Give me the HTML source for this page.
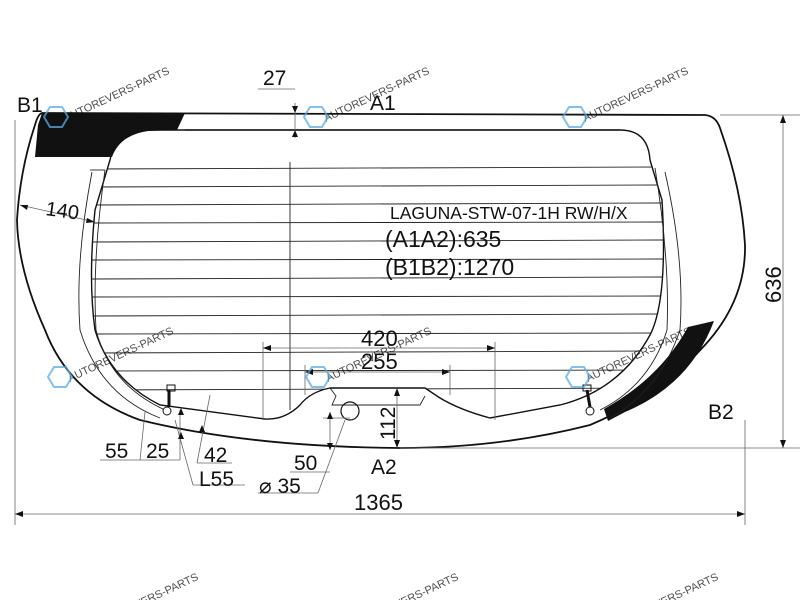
<!DOCTYPE html>
<html><head><meta charset="utf-8"><style>
html,body{margin:0;padding:0;background:#fff;width:800px;height:600px;overflow:hidden}
svg{display:block;overflow:hidden}
text{font-family:"Liberation Sans",sans-serif;fill:#111}
.wm{fill:#5aa9e0;font-size:11px;opacity:.75}
</style></head><body>
<svg width="800" height="600" viewBox="0 0 800 600" xmlns="http://www.w3.org/2000/svg">
<defs><clipPath id="cl"><path d="M150,130 L620,130 Q648,130 650,160 L662,200 Q668,300 650,335 Q620,390 560,405 L490,418 Q460,410 440,398 L425,388 L330,388 Q310,392 300,405 Q285,420 265,419 L160,405 Q110,380 95,330 Q88,280 95,210 L110,160 Q115,132 150,130 Z"/></clipPath>
<clipPath id="pg"><rect x="0" y="0" width="800" height="600"/></clipPath></defs>
<path d="M42,113 L705,115 Q716,116 720,128 Q742,190 745,245 Q746,300 705,345 Q660,395 590,425 Q500,448 400,448 Q250,447 140,420 Q70,395 45,330 Q18,270 17,220 Q20,170 35,125 Q38,114 42,113 Z" fill="none" stroke="#111" stroke-width="1.8"/>
<line x1="185" y1="130" x2="620" y2="130" stroke="#111" stroke-width="1.2"/>
<path d="M42,113 L185,113 L177,130 L148,131 Q120,135 112,157 L35,157 L38,125 Z" fill="#111"/>
<path d="M688,327 L714,321 Q690,385 625,412 L608,421 L604,409 Q660,378 688,327 Z" fill="#111"/>
<path d="M150,130 L620,130 Q648,130 650,160 L662,200 Q668,300 650,335 Q620,390 560,405 L490,418 Q460,410 440,398 L425,388 L330,388 Q310,392 300,405 Q285,420 265,419 L160,405 Q110,380 95,330 Q88,280 95,210 L110,160 Q115,132 150,130 Z" fill="none" stroke="#111" stroke-width="1.4"/>
<g clip-path="url(#cl)" stroke="#222" stroke-width="0.9">
<line x1="90" y1="169" x2="665" y2="167"/><line x1="90" y1="187" x2="665" y2="185"/>
<line x1="90" y1="205" x2="665" y2="203"/><line x1="90" y1="223" x2="665" y2="222"/>
<line x1="90" y1="242" x2="665" y2="240"/><line x1="90" y1="260" x2="665" y2="259"/>
<line x1="90" y1="279" x2="665" y2="277"/><line x1="90" y1="297" x2="665" y2="296"/>
<line x1="90" y1="316" x2="665" y2="314"/><line x1="90" y1="334" x2="665" y2="333"/>
<line x1="90" y1="353" x2="665" y2="351"/><line x1="90" y1="371" x2="665" y2="370"/>
<line x1="90" y1="390" x2="665" y2="388"/>
</g>
<line x1="290" y1="162" x2="290" y2="410" stroke="#222" stroke-width="0.9"/>
<path d="M105,170 Q92,260 96,330 Q110,385 165,410" fill="none" stroke="#222" stroke-width="0.9"/>
<path d="M90,170 L105,170" stroke="#222" stroke-width="0.9"/>
<path d="M92,172 Q75,260 80,330 Q100,395 160,418" fill="none" stroke="#222" stroke-width="0.9"/>
<path d="M655,168 Q670,260 667,330 Q650,385 600,410" fill="none" stroke="#222" stroke-width="0.9"/>
<path d="M665,172 Q685,260 680,330 Q660,390 610,418" fill="none" stroke="#222" stroke-width="0.9"/>
<path d="M330,388 L336,396 L332,405 L420,405 L425,396" fill="none" stroke="#222" stroke-width="0.9"/>
<circle cx="350" cy="411" r="9" fill="none" stroke="#111" stroke-width="1.2"/>
<rect x="167" y="385" width="8" height="6" fill="none" stroke="#111"/><line x1="169" y1="390" x2="169" y2="407" stroke="#111" stroke-width="3"/><circle cx="167" cy="411" r="4" fill="#fff" stroke="#111"/>
<rect x="583" y="385" width="8" height="6" fill="none" stroke="#111"/><line x1="587" y1="390" x2="590" y2="407" stroke="#111" stroke-width="3"/><circle cx="590" cy="411" r="4" fill="#fff" stroke="#111"/>
<g stroke="#666" stroke-width="0.8" fill="none">
<line x1="15" y1="120" x2="15" y2="525"/><line x1="745" y1="420" x2="745" y2="525"/>
<line x1="15" y1="514" x2="745" y2="514"/>
<line x1="720" y1="115" x2="800" y2="115"/><line x1="400" y1="448" x2="800" y2="448"/>
<line x1="783" y1="115" x2="783" y2="448"/>
<line x1="263" y1="342" x2="263" y2="420"/><line x1="495" y1="342" x2="495" y2="420"/>
<line x1="263" y1="348" x2="495" y2="348"/>
<line x1="305" y1="365" x2="305" y2="395"/><line x1="450" y1="365" x2="450" y2="395"/>
<line x1="305" y1="372" x2="450" y2="372"/>
<line x1="397" y1="388" x2="397" y2="448"/>
<line x1="295" y1="103" x2="295" y2="138"/><line x1="258" y1="89" x2="295" y2="89"/>
<line x1="20" y1="205" x2="95" y2="222"/>
<line x1="330" y1="412" x2="330" y2="450"/><line x1="323" y1="418" x2="350" y2="418"/>
<line x1="290" y1="472" x2="330" y2="472"/><line x1="258" y1="493" x2="318" y2="493"/><line x1="318" y1="493" x2="345" y2="420"/>
<line x1="100" y1="460" x2="140" y2="460"/><line x1="140" y1="460" x2="145" y2="412"/>
<line x1="140" y1="460" x2="180" y2="460"/><line x1="180" y1="460" x2="180" y2="410"/>
<line x1="197" y1="463" x2="232" y2="463"/><line x1="197" y1="463" x2="210" y2="395"/>
<line x1="193" y1="485" x2="245" y2="485"/><line x1="193" y1="485" x2="175" y2="420"/>
</g>
<g fill="#111">
<path d="M15,514 l8,-3 v6z"/><path d="M745,514 l-8,-3 v6z"/>
<path d="M783,115 l-3,8 h6z"/><path d="M783,448 l-3,-8 h6z"/>
<path d="M263,348 l8,-3 v6z"/><path d="M495,348 l-8,-3 v6z"/>
<path d="M305,372 l8,-3 v6z"/><path d="M450,372 l-8,-3 v6z"/>
<path d="M397,388 l-3,8 h6z"/><path d="M397,448 l-3,-8 h6z"/>
<path d="M295,113 l-3,-7 h6z"/><path d="M295,130 l-3,7 h6z"/>
<path d="M20,205 l8,0 l-1,5z"/><path d="M95,222 l-8,-4 l-1,5z"/>
<path d="M330,412 l-3,7 h6z"/><path d="M330,450 l-3,-7 h6z"/>
<path d="M181,408 l-3,7 h6z"/><path d="M181,432 l-3,7 h6z"/><path d="M202,425 l-3,7 h6z"/>
</g>
<text x="17" y="112" font-size="21">B1</text>
<text x="370" y="110" font-size="21">A1</text>
<text x="263" y="85" font-size="21">27</text>
<text x="45" y="215" font-size="20" transform="rotate(8 45 215)">140</text>
<text x="390" y="219" font-size="17.5">LAGUNA-STW-07-1H RW/H/X</text>
<text x="385" y="247" font-size="23">(A1A2):635</text>
<text x="385" y="275" font-size="23">(B1B2):1270</text>
<text x="361" y="346" font-size="22">420</text>
<text x="361" y="369" font-size="22">255</text>
<text x="395" y="440" font-size="21" transform="rotate(-90 395 440)">112</text>
<text x="781" y="303" font-size="22" transform="rotate(-90 781 303)">636</text>
<text x="708" y="419" font-size="21">B2</text>
<text x="371" y="474" font-size="21">A2</text>
<text x="354" y="510" font-size="22">1365</text>
<text x="105" y="458" font-size="21">55</text>
<text x="146" y="458" font-size="21">25</text>
<text x="204" y="462" font-size="21">42</text>
<text x="199" y="486" font-size="21">L55</text>
<text x="294" y="470" font-size="21">50</text>
<text x="259" y="493" font-size="21">⌀ 35</text>
<g class="wm" clip-path="url(#pg)">
<text x="66" y="122" transform="rotate(-25 66 122)">AUTOREVERS-PARTS</text>
<text x="326" y="122" transform="rotate(-25 326 122)">AUTOREVERS-PARTS</text>
<text x="585" y="122" transform="rotate(-25 585 122)">AUTOREVERS-PARTS</text>
<text x="70" y="382" transform="rotate(-25 70 382)">AUTOREVERS-PARTS</text>
<text x="328" y="382" transform="rotate(-25 328 382)">AUTOREVERS-PARTS</text>
<text x="588" y="382" transform="rotate(-25 588 382)">AUTOREVERS-PARTS</text>
<text x="95" y="628" transform="rotate(-25 95 628)">AUTOREVERS-PARTS</text>
<text x="355" y="628" transform="rotate(-25 355 628)">AUTOREVERS-PARTS</text>
<text x="615" y="628" transform="rotate(-25 615 628)">AUTOREVERS-PARTS</text>
</g>
<g fill="none" stroke="#5aa9e0" stroke-width="2" opacity=".75">
<path d="M44,117 l6,-10 h12 l6,10 l-6,10 h-12z"/><path d="M304,117 l6,-10 h12 l6,10 l-6,10 h-12z"/>
<path d="M563,117 l6,-10 h12 l6,10 l-6,10 h-12z"/><path d="M48,377 l6,-10 h12 l6,10 l-6,10 h-12z"/>
<path d="M306,377 l6,-10 h12 l6,10 l-6,10 h-12z"/><path d="M566,377 l6,-10 h12 l6,10 l-6,10 h-12z"/>
</g>
</svg>
</body></html>
